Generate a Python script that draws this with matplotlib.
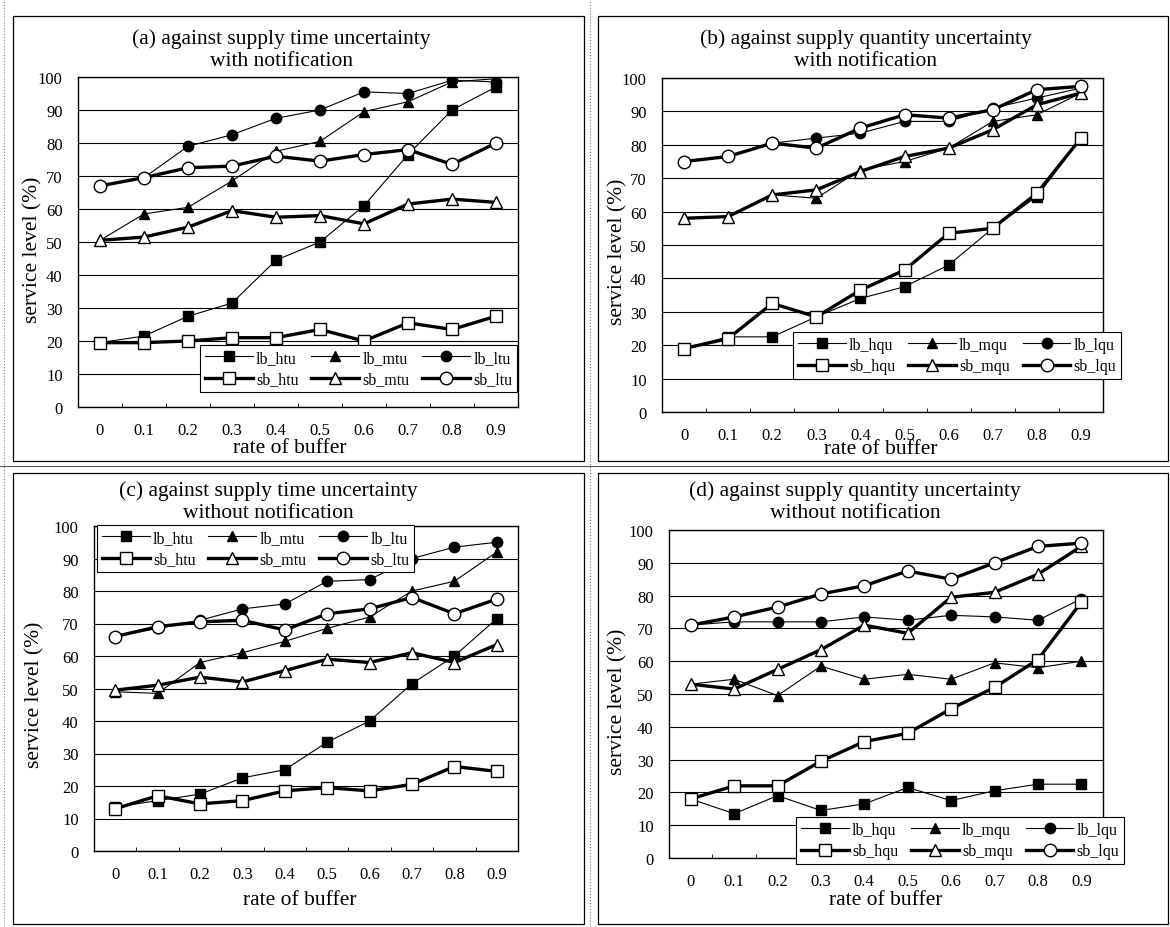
import matplotlib
matplotlib.use("Agg")
import matplotlib.pyplot as plt
import numpy as np
from matplotlib.patches import Rectangle
from matplotlib.lines import Line2D

plt.rcParams['font.family'] = ['Liberation Serif', 'DejaVu Serif']

x_labels = ["0", "0.1", "0.2", "0.3", "0.4", "0.5", "0.6", "0.7", "0.8", "0.9"]
y_ticks = [0, 10, 20, 30, 40, 50, 60, 70, 80, 90, 100]

# (a) time uncertainty, with notification
a_lb_htu = [19.5, 21.5, 27.5, 31.5, 44.5, 50, 61, 76.5, 90, 97]
a_lb_mtu = [50.5, 58.5, 60.5, 68.5, 77.5, 80.5, 89.5, 92.5, 98.5, 99.5]
a_lb_ltu = [67, 69.5, 79, 82.5, 87.5, 90, 95.5, 95, 99, 98.5]
a_sb_htu = [19.5, 19.5, 20, 21, 21, 23.5, 20, 25.5, 23.5, 27.5]
a_sb_mtu = [50.5, 51.5, 54.5, 59.5, 57.5, 58, 55.5, 61.5, 63, 62]
a_sb_ltu = [67, 69.5, 72.5, 73, 76, 74.5, 76.5, 78, 73.5, 80]

# (b) quantity uncertainty, with notification
b_lb_hqu = [19, 22.5, 22.5, 28.5, 34, 37.5, 44, 55, 64.5, 82]
b_lb_mqu = [58, 58.5, 65, 64, 72.5, 75, 79, 87, 89, 95.5]
b_lb_lqu = [75, 76.5, 80.5, 82, 83.5, 87, 87, 91, 94, 97]
b_sb_hqu = [19, 22, 32.5, 28.5, 36.5, 42.5, 53.5, 55, 65.5, 82]
b_sb_mqu = [58, 58.5, 65, 66.5, 72, 76.5, 79, 84.5, 92, 95.5]
b_sb_lqu = [75, 76.5, 80.5, 79, 85, 89, 88, 90.5, 96.5, 97.5]

# (c) time uncertainty, without notification
c_lb_htu = [13.5, 15.5, 17.5, 22.5, 25, 33.5, 40, 51.5, 60, 71.5]
c_lb_mtu = [49, 48.5, 58, 61, 64.5, 68.5, 72, 80, 83, 92]
c_lb_ltu = [66, 68.5, 71, 74.5, 76, 83, 83.5, 90, 93.5, 95]
c_sb_htu = [13, 17, 14.5, 15.5, 18.5, 19.5, 18.5, 20.5, 26, 24.5]
c_sb_mtu = [49.5, 51, 53.5, 52, 55.5, 59, 58, 61, 58, 63.5]
c_sb_ltu = [66, 69, 70.5, 71, 68, 73, 74.5, 78, 73, 77.5]

# (d) quantity uncertainty, without notification
d_lb_hqu = [18, 13.5, 19, 14.5, 16.5, 21.5, 17.5, 20.5, 22.5, 22.5]
d_lb_mqu = [53, 54.5, 49.5, 58.5, 54.5, 56, 54.5, 59.5, 58, 60]
d_lb_lqu = [71, 72, 72, 72, 73.5, 72.5, 74, 73.5, 72.5, 79]
d_sb_hqu = [18, 22, 22, 29.5, 35.5, 38, 45.5, 52, 60.5, 78]
d_sb_mqu = [53, 51.5, 57.5, 63.5, 71, 68.5, 79.5, 81, 86.5, 95]
d_sb_lqu = [71, 73.5, 76.5, 80.5, 83, 87.5, 85, 90, 95, 96]

panel_titles = [
    "(a) against supply time uncertainty\nwith notification",
    "(b) against supply quantity uncertainty\nwith notification",
    "(c) against supply time uncertainty\nwithout notification",
    "(d) against supply quantity uncertainty\nwithout notification",
]
y_label = "service level (%)"
x_label = "rate of buffer"

W, H = 1170, 928
fig = plt.figure(figsize=(W / 100, H / 100), dpi=100)


def fx(px):
    return px / W


def fy(py):
    return 1 - py / H


def rect(l, t, r, b):
    return [fx(l), fy(b), fx(r) - fx(l), (b - t) / H]


# panel frames
for (l, t, r, b) in [(13, 17, 584, 462), (598, 17, 1168, 462),
                     (13, 474, 584, 925), (598, 474, 1168, 925)]:
    fig.patches.append(Rectangle((fx(l), fy(b)), fx(r) - fx(l), (b - t) / H,
                                 transform=fig.transFigure, fill=False,
                                 edgecolor='black', linewidth=0.9))
# scan separators
fig.add_artist(Line2D([fx(590), fx(590)], [0, 1], transform=fig.transFigure,
                      color='#777777', linestyle=':', linewidth=0.8))
fig.add_artist(Line2D([0, 1], [fy(467), fy(467)], transform=fig.transFigure,
                      color='#555555', linestyle='-', linewidth=0.8))
fig.add_artist(Line2D([fx(4), fx(4)], [0, 1], transform=fig.transFigure,
                      color='#888888', linestyle=':', linewidth=0.8))

styles = [
    dict(marker='s', mfc='black', mec='black', ms=6.5, lw=0.8),
    dict(marker='^', mfc='black', mec='black', ms=7, lw=0.8),
    dict(marker='o', mfc='black', mec='black', ms=7.5, lw=0.8),
    dict(marker='s', mfc='white', mec='black', ms=8.5, lw=2.4, mew=1.0),
    dict(marker='^', mfc='white', mec='black', ms=8.5, lw=2.4, mew=1.0),
    dict(marker='o', mfc='white', mec='black', ms=9, lw=2.4, mew=1.0),
]

panels = [
    dict(series=[a_lb_htu, a_lb_mtu, a_lb_ltu, a_sb_htu, a_sb_mtu, a_sb_ltu],
         names=["lb_htu", "lb_mtu", "lb_ltu", "sb_htu", "sb_mtu", "sb_ltu"],
         ax=(78, 78, 518, 408), title=(281, 50), ylab=(33, 250), xlab=(290, 449),
         leg=(200, 346)),
    dict(series=[b_lb_hqu, b_lb_mqu, b_lb_lqu, b_sb_hqu, b_sb_mqu, b_sb_lqu],
         names=["lb_hqu", "lb_mqu", "lb_lqu", "sb_hqu", "sb_mqu", "sb_lqu"],
         ax=(662, 79, 1103, 413), title=(866, 50), ylab=(618, 252), xlab=(881, 450),
         leg=(793, 333)),
    dict(series=[c_lb_htu, c_lb_mtu, c_lb_ltu, c_sb_htu, c_sb_mtu, c_sb_ltu],
         names=["lb_htu", "lb_mtu", "lb_ltu", "sb_htu", "sb_mtu", "sb_ltu"],
         ax=(94, 527, 518, 852), title=(268, 502), ylab=(35, 695), xlab=(300, 901),
         leg=(97, 526)),
    dict(series=[d_lb_hqu, d_lb_mqu, d_lb_lqu, d_sb_hqu, d_sb_mqu, d_sb_lqu],
         names=["lb_hqu", "lb_mqu", "lb_lqu", "sb_hqu", "sb_mqu", "sb_lqu"],
         ax=(669, 531, 1103, 859), title=(855, 502), ylab=(618, 702), xlab=(886, 901),
         leg=(796, 818)),
]

x = np.arange(len(x_labels))

for p, ttl in zip(panels, panel_titles):
    l, t, r, b = p['ax']
    ax = fig.add_axes(rect(l, t, r, b))
    handles = []
    for vals, name, st in zip(p['series'], p['names'], styles):
        h, = ax.plot(x, vals, color='black', linewidth=st['lw'], marker=st['marker'],
                     markersize=st['ms'], markerfacecolor=st['mfc'],
                     markeredgecolor=st['mec'], markeredgewidth=st.get('mew', 1.0),
                     label=name)
        handles.append(h)
    ax.set_xlim(-0.5, len(x_labels) - 0.5)
    ax.set_ylim(0, 100)
    ax.set_yticks(y_ticks)
    ax.set_xticks(x)
    ax.set_xticklabels(x_labels, fontsize=12)
    ax.set_xticks(np.arange(-0.5, len(x_labels), 1.0), minor=True)
    ax.tick_params(axis='x', which='major', length=0, pad=11)
    ax.tick_params(axis='x', which='minor', length=3, direction='in')
    ax.tick_params(axis='y', which='major', length=0, pad=11, labelsize=12)
    ax.grid(axis='y', color='black', linewidth=0.8)
    ax.set_axisbelow(True)
    for s in ax.spines.values():
        s.set_linewidth(1.0)
        s.set_color('black')

    fig.text(fx(p['title'][0]), fy(p['title'][1]), ttl, ha='center', va='center',
             fontsize=15.5, linespacing=1.2)
    fig.text(fx(p['ylab'][0]), fy(p['ylab'][1]), y_label, ha='center', va='center',
             rotation=90, fontsize=15.5)
    fig.text(fx(p['xlab'][0]), fy(p['xlab'][1]), x_label, ha='center', va='center',
             fontsize=15.5)

    order = [0, 3, 1, 4, 2, 5]
    lx, ly = p['leg']
    leg = ax.legend([handles[i] for i in order], [p['names'][i] for i in order],
                    ncol=3, loc='upper left',
                    bbox_to_anchor=(fx(lx), fy(ly)), bbox_transform=fig.transFigure,
                    fontsize=11.5, handlelength=3.0, handletextpad=0.2,
                    columnspacing=0.8, labelspacing=0.35, borderpad=0.3,
                    borderaxespad=0, frameon=True, fancybox=False, framealpha=1)
    leg.get_frame().set_edgecolor('black')
    leg.get_frame().set_linewidth(0.8)

fig.savefig("out.png", dpi=100)
